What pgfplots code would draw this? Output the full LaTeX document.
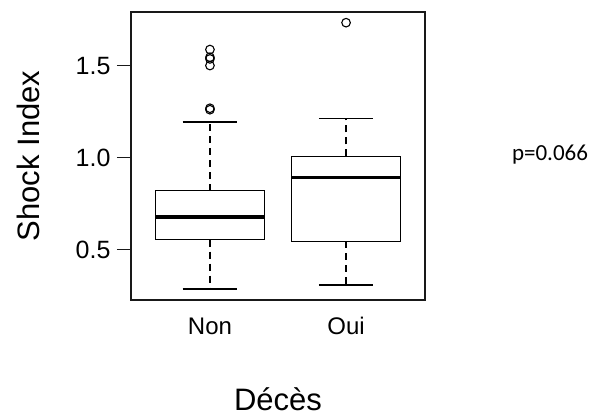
\documentclass[border=0pt]{standalone}
\usepackage{fontspec}
\setmainfont{Liberation Sans}
\newfontfamily\calibri{Carlito}
\usepackage{pgfplots}
\pgfplotsset{compat=1.18}
\begin{document}
\begin{tikzpicture}[x=1pt,y=1pt]
\begin{axis}[
  at={(131pt,117pt)}, anchor=south west,
  scale only axis, width=294pt, height=288pt,
  xmin=0.42, xmax=2.58, ymin=0.228, ymax=1.793,
  xtick={1,2}, xticklabels={Non,Oui},
  ytick={0.5,1.0,1.5}, yticklabels={0.5,1.0,1.5},
  xticklabel style={font=\fontsize{24}{28}\selectfont, text=black},
  yticklabel style={font=\fontsize{25}{29}\selectfont, text=black, xshift=-3pt},
  tick align=outside, major tick length=14pt,
  xtick style={draw=none},
  ytick style={line width=1.1pt, black!90},
  ytick pos=left,
  axis line style={line width=1.1pt, black!90},
  clip=false,
  xlabel={Décès},
  ylabel={Shock Index},
  label style={font=\fontsize{31}{36}\selectfont, text=black},
  xlabel style={at={(axis description cs:0.5,-0.344)}, anchor=center},
  ylabel style={at={(axis description cs:-0.350,0.5)}, anchor=center},
]
% Non
\addplot[black, line width=1.4pt, line join=miter] coordinates {(0.6,0.556)(1.4,0.556)(1.4,0.822)(0.6,0.822)(0.6,0.556)(1.4,0.556)};
\addplot[black, line width=3.5pt] coordinates {(0.6,0.678)(1.4,0.678)};
\addplot[black, line width=1.4pt, dash pattern=on 7pt off 5pt] coordinates {(1,0.556)(1,0.288)};
\addplot[black, line width=1.4pt, dash pattern=on 7pt off 5pt] coordinates {(1,0.822)(1,1.196)};
\addplot[black, line width=1.4pt] coordinates {(0.8,0.288)(1.2,0.288)};
\addplot[black, line width=1.4pt] coordinates {(0.8,1.196)(1.2,1.196)};
\addplot[only marks, mark=o, mark size=4.3pt, mark options={line width=1.1pt, black}] coordinates {(1,1.262)(1,1.270)(1,1.502)(1,1.538)(1,1.547)(1,1.589)};
% Oui
\addplot[black, line width=1.4pt, line join=miter] coordinates {(1.6,0.547)(2.4,0.547)(2.4,1.009)(1.6,1.009)(1.6,0.547)(2.4,0.547)};
\addplot[black, line width=3.5pt] coordinates {(1.6,0.895)(2.4,0.895)};
\addplot[black, line width=1.4pt, dash pattern=on 7pt off 5pt] coordinates {(2,0.547)(2,0.310)};
\addplot[black, line width=1.4pt, dash pattern=on 7pt off 5pt] coordinates {(2,1.009)(2,1.214)};
\addplot[black, line width=1.4pt] coordinates {(1.8,0.310)(2.2,0.310)};
\addplot[black, line width=1.4pt] coordinates {(1.8,1.214)(2.2,1.214)};
\addplot[only marks, mark=o, mark size=4.3pt, mark options={line width=1.1pt, black}] coordinates {(2,1.735)};
\end{axis}
\node[font=\calibri\fontsize{23}{27}\selectfont, anchor=center] at (550pt,262pt) {p=0.066};
\pgfresetboundingbox
\useasboundingbox (0,0) rectangle (593pt,417pt);
\end{tikzpicture}
\end{document}
